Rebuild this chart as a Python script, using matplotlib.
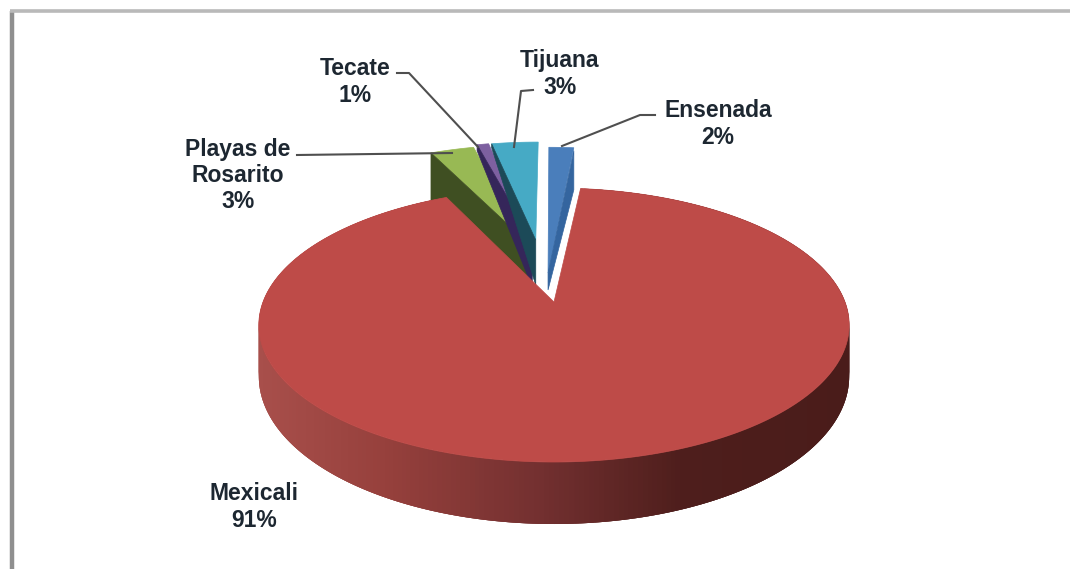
import numpy as np
import matplotlib
matplotlib.use("Agg")
import matplotlib.pyplot as plt
from matplotlib.colors import LinearSegmentedColormap

# slices, clockwise from 12 o'clock
names = ["Ensenada", "Mexicali", "Playas de\nRosarito", "Tecate", "Tijuana"]
shares = [1.7, 91.3, 3.0, 0.8, 3.2]
labels = ["2%", "91%", "3%", "1%", "3%"]

top_colors = ["#4a7ebb", "#be4b48", "#98b954", "#7d60a0", "#46aac5"]
side_colors = ["#34659f", None, "#3f4f22", "#35265a", "#1c4a58"]
# where the apex of each slice sits on the unit disc (explosion)
apex = [(-0.022, 0.444), (0.0, 0.0), (-0.095, 0.475), (-0.081, 0.505), (-0.068, 0.505)]
# side face offsets in pixels: outer top, apex top, outer bottom, apex bottom
side_faces = [(3, 26, 42, 43), None, (0, 0, 47, 47), (0, 0, 6, 47), (0, 0, 4, 45)]

plt.rcParams["font.family"] = ["Liberation Sans", "DejaVu Sans"]
fig = plt.figure(figsize=(10.7, 5.69), dpi=100)
ax = fig.add_axes([0, 0, 1, 1])
ax.set_xlim(0, 1070)
ax.set_ylim(569, 0)
ax.axis("off")


# perspective projection of the pie plane to the picture
def project(u, v):
    w = 1 + 0.168 * v
    return 554 + 291 * u / w, (302 - 82.4 * v) / w


def wall_depth(y):
    return 45 + (y - 240) * 17 / 222


# slice angles from the values
edges = np.cumsum([0] + shares) * 3.6

# frame
ax.plot([11.5, 11.5], [569, 11], color="#8f8f8f", lw=3.2, solid_capstyle="butt")
ax.plot([10, 1070], [11, 11], color="#b9b9b9", lw=2.6, solid_capstyle="butt")


def slice_outline(i):
    th = np.radians(np.linspace(edges[i], edges[i + 1], 400 if i == 1 else 12))
    u = apex[i][0] + np.sin(th)
    v = apex[i][1] + np.cos(th)
    x, y = project(u, v)
    ax0, ay0 = project(*apex[i])
    return x, y, ax0, ay0


# small slices behind Mexicali: top, then the side face over it
for i in [2, 3, 4, 0]:
    x, y, ax0, ay0 = slice_outline(i)
    f = side_faces[i]
    ax.fill(np.r_[ax0, x], np.r_[ay0 + f[1], y], color=top_colors[i], lw=0.5, zorder=2 + i)
    # Ensenada shows its right face, the others their left face
    if i == 0:
        ex, ey = x[-1], y[-1]
    else:
        ex, ey = x[0], y[0]
    ax.fill([ex, ax0, ax0, ex], [ey + f[0], ay0 + f[1], ay0 + f[3], ey + f[2]],
            color=side_colors[i], lw=0.5, zorder=2.5 + i)

# Mexicali wall, shaded left to right
wall_cmap = LinearSegmentedColormap.from_list(
    "wall", [(0.0, "#a84f4b"), (0.22, "#96403c"), (0.48, "#733030"),
             (0.72, "#4e1e1c"), (1.0, "#4a1c1a")])
x, y, ax0, ay0 = slice_outline(1)
for k in range(len(x) - 3):
    # overlap the next strips so no seams show
    xs = [x[k], x[k + 3], x[k + 3], x[k]]
    ys = [y[k], y[k + 3], y[k + 3] + wall_depth(y[k + 3]), y[k] + wall_depth(y[k])]
    c = wall_cmap((x[k] - 259) / 590)
    ax.fill(xs, ys, color=c, lw=0, zorder=8)
ax.fill(np.r_[ax0, x], np.r_[ay0, y], color=top_colors[1], lw=0.5, zorder=9)

# leader lines
leader_color = "#4f4f4f"
ax.plot([655, 640, 562], [115, 115, 146], color=leader_color, lw=1.5, zorder=10)
ax.plot([533, 521, 514], [90, 91, 147], color=leader_color, lw=1.5, zorder=10)
ax.plot([397, 409, 478], [73, 73, 147], color=leader_color, lw=1.5, zorder=10)
ax.plot([297, 452], [155, 153], color=leader_color, lw=1.5, zorder=10)

# labels
label_pos = [(718, 124), (254, 507), (238, 175.5), (355, 82), (560, 74)]
for name, lab, (tx, ty) in zip(names, labels, label_pos):
    ax.text(tx, ty, name + "\n" + lab, ha="center", va="center", multialignment="center",
            fontsize=16.5, fontweight="bold", color="#1d2731", linespacing=1.17, zorder=11)

fig.savefig("out.png", dpi=100)
